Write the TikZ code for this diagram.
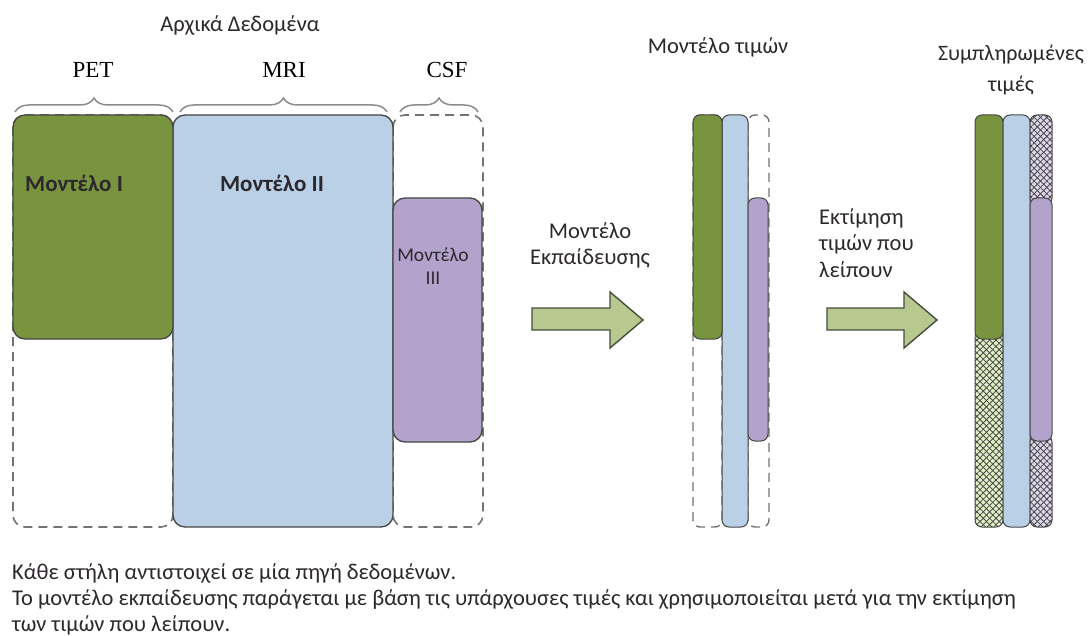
\documentclass[tikz,border=0pt]{standalone}
\usepackage{fontspec}
\setmainfont{Carlito}
\newfontfamily\timesf{Liberation Serif}
\usetikzlibrary{decorations.pathreplacing,patterns.meta}
\definecolor{gfill}{RGB}{120,148,62}
\definecolor{bfill}{RGB}{185,208,230}
\definecolor{pfill}{RGB}{178,162,204}
\definecolor{afill}{RGB}{183,201,142}
\definecolor{aline}{RGB}{70,78,60}
\definecolor{edge}{RGB}{70,70,70}
\definecolor{dash}{RGB}{115,115,115}
\definecolor{hgreen}{RGB}{226,238,196}
\definecolor{hpurple}{RGB}{222,214,236}
\definecolor{txt}{RGB}{45,40,45}
\tikzset{
  solidbox/.style={draw=edge,line width=1.3pt,rounded corners=12pt},
  dashbox/.style={draw=dash,line width=1.6pt,dash pattern=on 9pt off 6pt,rounded corners=12pt},
  bar/.style={draw=edge,line width=1pt,rounded corners=7pt},
  dashbar/.style={draw=dash,line width=1.4pt,dash pattern=on 9pt off 6pt,rounded corners=7pt},
  bigarrow/.style={draw=aline,line width=1.4pt,fill=afill,line join=miter},
  brace/.style={draw=gray!90,line width=1.5pt,decorate,decoration={brace,amplitude=14pt}},
  label/.style={text=txt,font=\fontsize{22.5}{27}\selectfont,inner sep=0pt},
  srclabel/.style={text=black,font=\timesf\fontsize{23}{26}\selectfont,inner sep=0pt},
  modlabel/.style={text=txt,font=\bfseries\fontsize{23}{27}\selectfont,inner sep=0pt},
}
\newcommand{\hatchfill}[2]{%
  \fill[#1] #2;
  \fill[pattern={Lines[angle=45,distance=4.5pt,line width=0.8pt]},pattern color=edge] #2;
  \fill[pattern={Lines[angle=-45,distance=4.5pt,line width=0.8pt]},pattern color=edge] #2;
}
\begin{document}
\begin{tikzpicture}[x=1pt,y=-1pt]
\useasboundingbox[fill=white] (0,0) rectangle (1089,636);

% titles
\node[label] (t0) at (240,25) {Αρχικά Δεδομένα};
\node[srclabel] (pet) at (93,70) {PET};
\node[srclabel] (mri) at (284,70) {MRI};
\node[srclabel] (csf) at (447,70) {CSF};
\draw[brace] (15,112) -- (173,112);
\draw[brace] (180,112) -- (387,112);
\draw[brace] (400,112) -- (478,112);

% left block
\draw[dashbox] (13,115) rectangle (173,527);
\draw[dashbox] (393,115) rectangle (483,527);
\path[solidbox,fill=bfill] (173,115) rectangle (393,527);
\path[solidbox,fill=gfill] (13,115) rectangle (173,339);
\path[solidbox,fill=pfill] (393,198) rectangle (482,442);
\node[modlabel,anchor=west] (m1) at (25,183) {Μοντέλο I};
\node[modlabel] (m2) at (272,183) {Μοντέλο II};
\node[label,font=\fontsize{19.5}{23}\selectfont,align=center] (m3) at (433,266) {Μοντέλο\\III};

% arrow 1
\path[bigarrow] (532,308) -- (610,308) -- (610,292) -- (643,320) -- (610,348) -- (610,330) -- (532,330) -- cycle;
\node[label,align=center,font=\fontsize{22.5}{26}\selectfont] (a1) at (590,245) {Μοντέλο\\Εκπαίδευσης};

% middle column
\node[label] (t1) at (718,47) {Μοντέλο τιμών};
\draw[dashbar] (693,115) rectangle (722,527);
\draw[dashbar] (748,115) rectangle (769,527);
\path[bar,fill=bfill] (722,115) rectangle (748,527);
\path[bar,fill=gfill] (693,115) rectangle (722,339);
\path[bar,fill=pfill] (748,198) rectangle (768,441);

% arrow 2
\path[bigarrow] (827,308) -- (904,308) -- (904,292) -- (937,320) -- (904,348) -- (904,330) -- (827,330) -- cycle;
\node[label,align=left,anchor=west,font=\fontsize{22.5}{26.5}\selectfont] (a2) at (819,243) {Εκτίμηση\\τιμών που\\λείπουν};

% right column
\node[label,align=center,font=\fontsize{22}{31}\selectfont] (t2) at (1011,70) {Συμπληρωμένες\\τιμές};
\hatchfill{hgreen}{[rounded corners=7pt] (975,330) rectangle (1003,527)}
\draw[bar] (975,330) rectangle (1003,527);
\path[bar,fill=gfill] (975,115) rectangle (1003,339);
\path[bar,fill=bfill] (1003,115) rectangle (1030,527);
\hatchfill{hpurple}{[rounded corners=7pt] (1030,115) rectangle (1052,205)}
\draw[bar] (1030,115) rectangle (1052,205);
\hatchfill{hpurple}{[rounded corners=7pt] (1030,435) rectangle (1052,527)}
\draw[bar] (1030,435) rectangle (1052,527);
\path[bar,fill=pfill] (1030,198) rectangle (1052,441);

% caption
\node[label,anchor=west,align=left,font=\fontsize{22.5}{26}\selectfont] (cap) at (12,599) {Κάθε στήλη αντιστοιχεί σε μία πηγή δεδομένων.\\Το μοντέλο εκπαίδευσης παράγεται με βάση τις υπάρχουσες τιμές και χρησιμοποιείται μετά για την εκτίμηση\\των τιμών που λείπουν.};
\end{tikzpicture}
\end{document}
